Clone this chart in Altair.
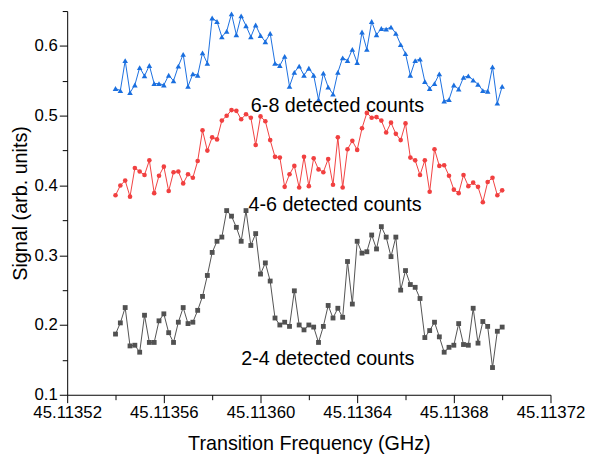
import altair as alt
import pandas as pd

# Frequency sweep (GHz): 81 equally spaced steps of 2 Hz
freq = [round(45.11354 + 0.000002 * i, 6) for i in range(81)]

sig_68 = [0.539, 0.536, 0.579, 0.533, 0.544, 0.569, 0.557, 0.572, 0.546, 0.546,
          0.544, 0.558, 0.550, 0.571, 0.588, 0.542, 0.560, 0.558, 0.590, 0.575,
          0.640, 0.635, 0.613, 0.621, 0.646, 0.616, 0.643, 0.629, 0.613, 0.630,
          0.615, 0.606, 0.618, 0.575, 0.572, 0.585, 0.542, 0.562, 0.571, 0.558,
          0.568, 0.558, 0.523, 0.561, 0.541, 0.531, 0.562, 0.583, 0.579, 0.595,
          0.576, 0.620, 0.595, 0.635, 0.616, 0.625, 0.624, 0.627, 0.618, 0.602,
          0.589, 0.558, 0.579, 0.581, 0.549, 0.539, 0.546, 0.560, 0.521, 0.523,
          0.544, 0.538, 0.555, 0.557, 0.551, 0.545, 0.536, 0.535, 0.570, 0.518,
          0.542]

sig_46 = [0.386, 0.400, 0.407, 0.384, 0.425, 0.420, 0.415, 0.436, 0.389, 0.414,
          0.427, 0.392, 0.419, 0.420, 0.403, 0.416, 0.411, 0.435, 0.479, 0.450,
          0.469, 0.466, 0.493, 0.500, 0.508, 0.507, 0.495, 0.502, 0.497, 0.458,
          0.499, 0.492, 0.465, 0.441, 0.440, 0.398, 0.416, 0.428, 0.397, 0.441,
          0.399, 0.439, 0.423, 0.419, 0.438, 0.401, 0.469, 0.397, 0.452, 0.464,
          0.451, 0.482, 0.504, 0.497, 0.498, 0.493, 0.476, 0.490, 0.474, 0.465,
          0.489, 0.440, 0.436, 0.415, 0.436, 0.391, 0.452, 0.428, 0.429, 0.414,
          0.394, 0.389, 0.415, 0.399, 0.404, 0.398, 0.376, 0.405, 0.411, 0.386,
          0.393]

sig_24 = [0.187, 0.203, 0.225, 0.170, 0.171, 0.161, 0.214, 0.175, 0.175, 0.206,
          0.216, 0.189, 0.175, 0.204, 0.225, 0.202, 0.204, 0.221, 0.241, 0.271,
          0.304, 0.320, 0.326, 0.364, 0.356, 0.340, 0.320, 0.364, 0.314, 0.331,
          0.273, 0.289, 0.263, 0.210, 0.200, 0.204, 0.198, 0.249, 0.200, 0.193,
          0.200, 0.197, 0.175, 0.198, 0.228, 0.210, 0.224, 0.211, 0.291, 0.230,
          0.320, 0.303, 0.305, 0.329, 0.309, 0.341, 0.326, 0.298, 0.326, 0.250,
          0.278, 0.258, 0.254, 0.238, 0.182, 0.192, 0.204, 0.183, 0.161, 0.168,
          0.171, 0.202, 0.172, 0.171, 0.224, 0.174, 0.205, 0.198, 0.139, 0.191,
          0.197]

series_names = ["2-4 detected counts", "4-6 detected counts", "6-8 detected counts"]
series_values = [sig_24, sig_46, sig_68]
series_colors = ["#515151", "#F14040", "#1A6FDF"]
series_shapes = ["square", "circle", "triangle-up"]
series_sizes = [24, 22, 32]

label_x = [45.113592, 45.113595, 45.113596]
label_y = [0.143, 0.363, 0.505]

x_ticks = [45.11352, 45.11354, 45.11356, 45.11358, 45.11360, 45.11362,
           45.11364, 45.11366, 45.11368, 45.11370, 45.11372]
y_ticks = [0.1, 0.15, 0.2, 0.25, 0.3, 0.35, 0.4, 0.45, 0.5, 0.55, 0.6, 0.65]

FONT = "Liberation Sans"

x_major = "round((datum.value - 45.11352) * 1e5) % 4 == 0"
y_major = "round(datum.value * 100) % 10 == 0"

x_enc = alt.X(
    "f:Q",
    scale=alt.Scale(domain=[45.11352, 45.11372], nice=False, zero=False),
    axis=alt.Axis(
        values=x_ticks,
        labelExpr=f"{x_major} ? format(datum.value, '.5f') : ''",
        tickSize={"condition": {"test": x_major, "value": 8}, "value": 5},
        title="Transition Frequency (GHz)",
        grid=False, labelFlush=False, labelOverlap=False, labelBound=False,
        domainColor="black", tickColor="black", labelColor="black", titleColor="black",
        labelFont=FONT, labelFontSize=17, titleFont=FONT, titleFontSize=20,
        titleFontWeight="normal", labelPadding=2, titlePadding=14,
    ),
)
y_enc = alt.Y(
    "s:Q",
    scale=alt.Scale(domain=[0.1, 0.65], nice=False, zero=False),
    axis=alt.Axis(
        values=y_ticks,
        labelExpr=f"{y_major} ? format(datum.value, '.1f') : ''",
        tickSize={"condition": {"test": y_major, "value": 8}, "value": 5},
        title="Signal (arb. units)",
        grid=False, labelOverlap=False, labelBound=False,
        domainColor="black", tickColor="black", labelColor="black", titleColor="black",
        labelFont=FONT, labelFontSize=17, titleFont=FONT, titleFontSize=20,
        titleFontWeight="normal", labelPadding=2, titlePadding=4,
    ),
)

layers = []
for name, vals, col, shp, sz in zip(series_names, series_values, series_colors,
                                    series_shapes, series_sizes):
    df = pd.DataFrame({"f": freq, "s": vals, "series": name})
    base = alt.Chart(df)
    layers.append(base.mark_line(color=col, strokeWidth=1).encode(x=x_enc, y=y_enc))
    layers.append(base.mark_point(color=col, filled=True, opacity=1, shape=shp, size=sz)
                  .encode(x=x_enc, y=y_enc))

ann = pd.DataFrame({"f": label_x, "s": label_y, "t": series_names})
layers.append(
    alt.Chart(ann).mark_text(align="left", baseline="alphabetic", font=FONT,
                             fontSize=20, color="black")
    .encode(x=x_enc, y=y_enc, text="t:N")
)

chart = (
    alt.layer(*layers)
    .properties(width=490, height=389,
                padding={"left": 60, "top": 0, "right": 37, "bottom": 60},
                autosize=alt.AutoSizeParams(type="none"))
    .configure(background="white", view=alt.ViewConfig(stroke=None))
)

chart.save("out.html", embed_options={"renderer": "svg", "actions": False})
